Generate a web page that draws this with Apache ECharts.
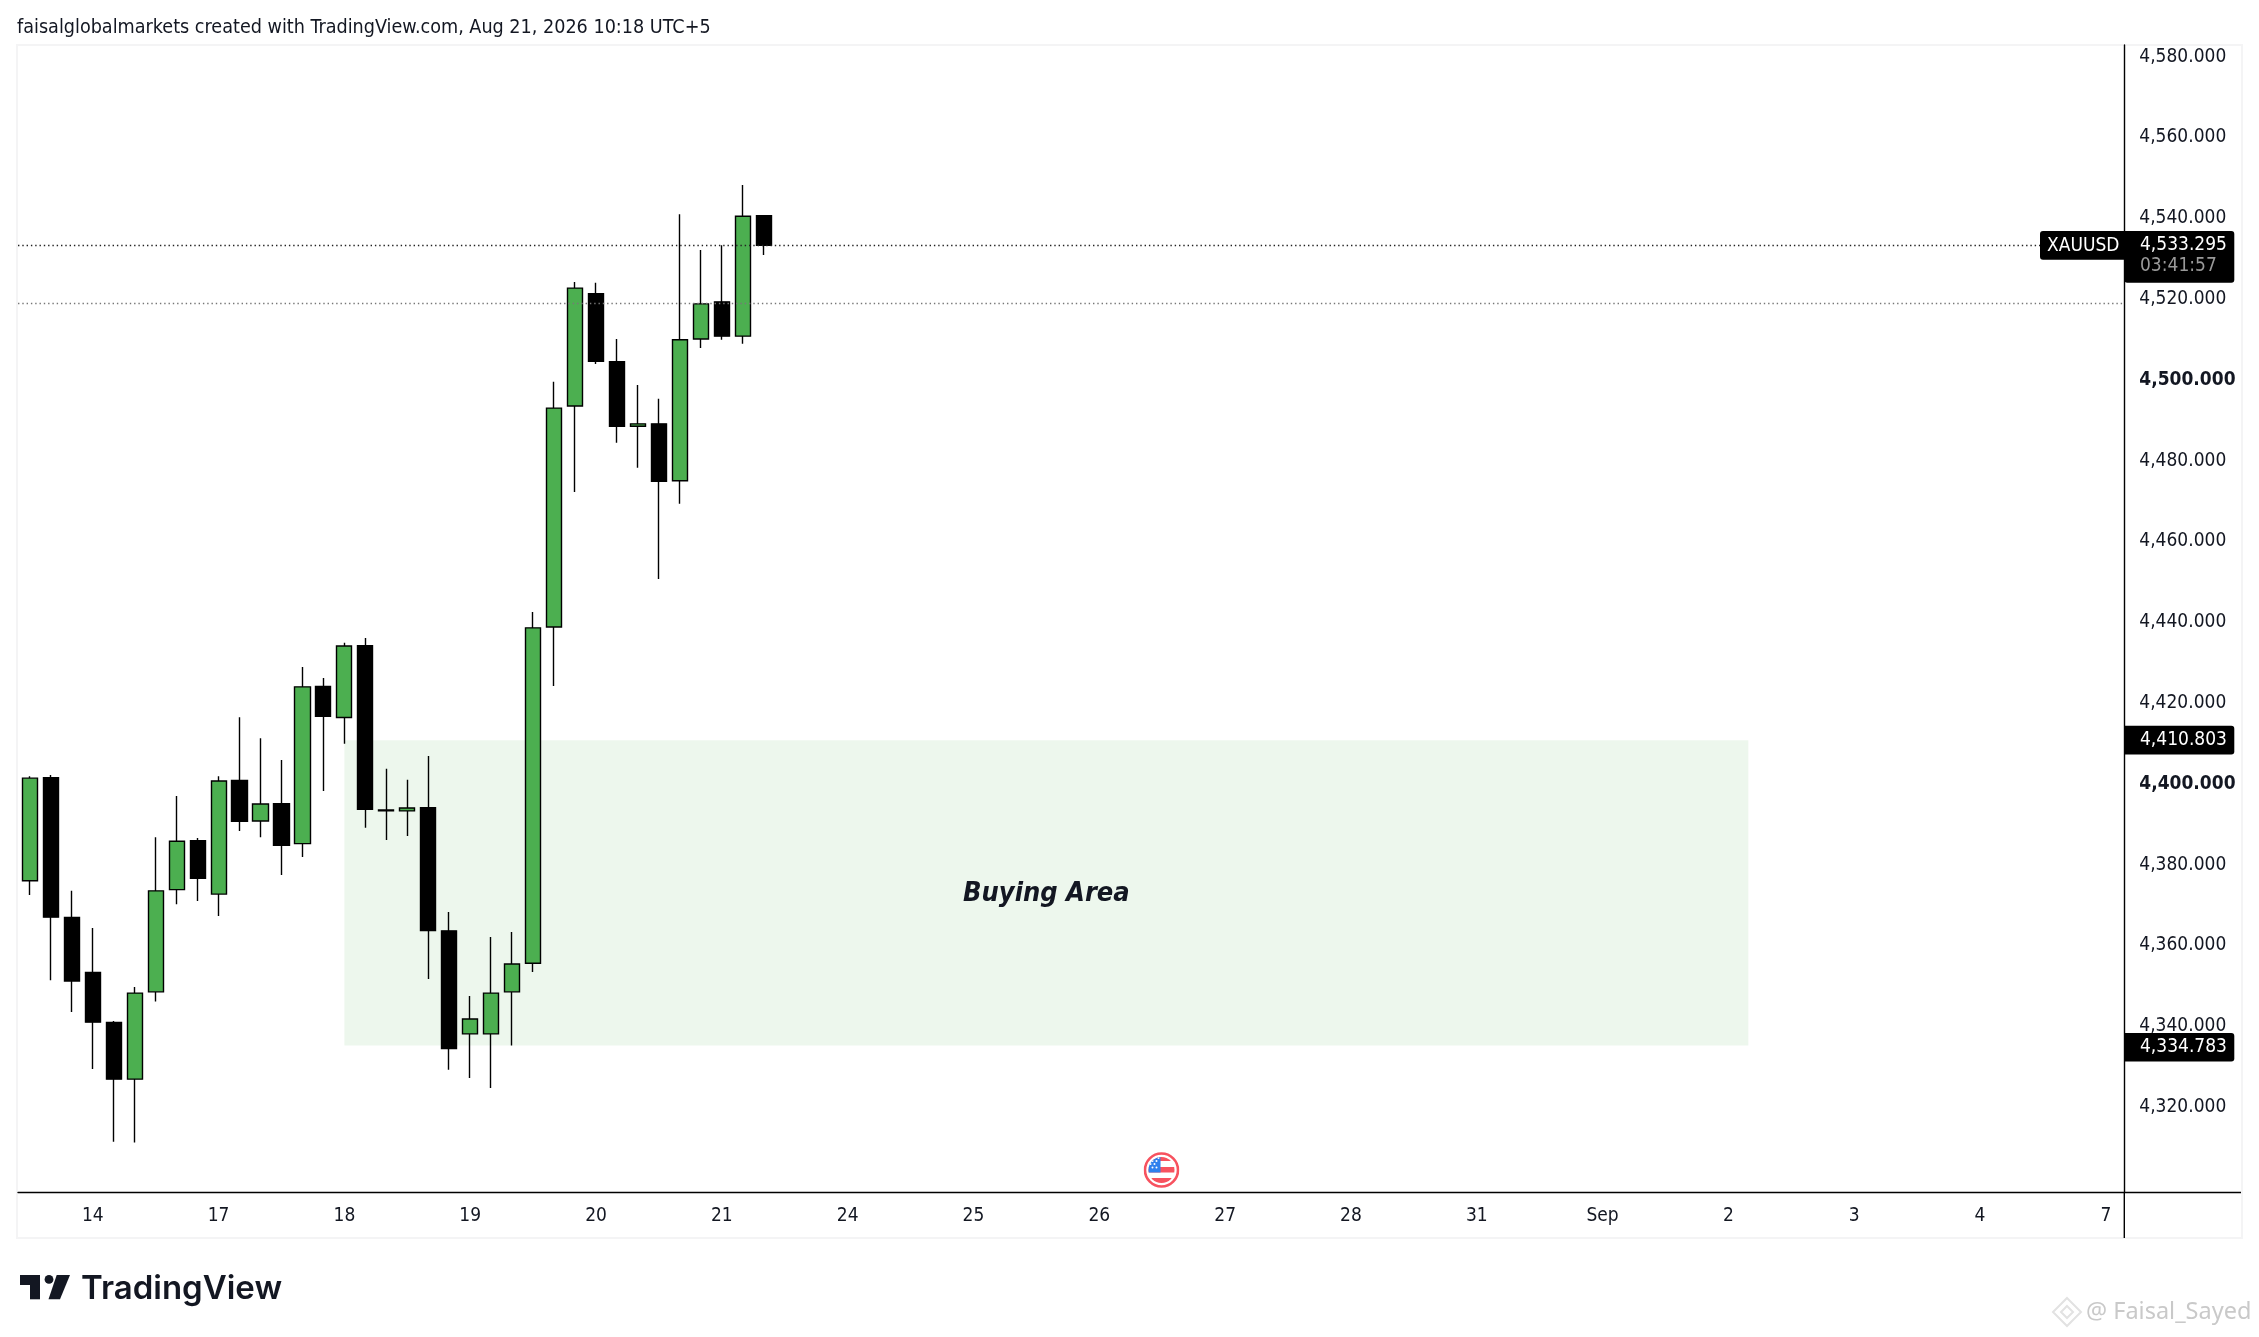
<!DOCTYPE html>
<html><head><meta charset="utf-8">
<style>html,body{margin:0;padding:0;background:#fff}#c{width:2259px;height:1337px}</style>
<script src="https://cdn.jsdelivr.net/npm/echarts@6/dist/echarts.min.js"></script>
</head><body><div id="c"></div>
<script>
const opens  = [4376.0,4401.5,4366.9,4353.3,4340.9,4326.9,4348.5,4373.8,4385.9,4372.7,4400.8,4390.8,4395.1,4385.2,4424.1,4416.4,4434.2,4393.5,4393.3,4394.1,4363.6,4338.1,4338.1,4348.5,4355.6,4438.8,4493.5,4521.3,4504.5,4488.5,4489.1,4475.0,4510.1,4519.3,4510.8,4540.6];
const closes = [4401.4,4367.0,4351.2,4341.0,4326.9,4348.2,4373.5,4385.8,4376.6,4400.7,4390.7,4395.0,4384.8,4424.0,4416.7,4434.1,4393.7,4393.3,4394.0,4363.7,4334.5,4341.8,4348.2,4355.4,4438.6,4493.0,4522.7,4504.6,4488.5,4489.1,4474.9,4509.9,4518.8,4510.8,4540.5,4533.295];
const lows   = [4372.5,4351.4,4343.5,4329.4,4311.4,4311.2,4346.1,4370.2,4371.0,4367.3,4388.3,4386.8,4377.4,4381.9,4398.2,4409.9,4389.1,4386.1,4387.1,4351.7,4329.2,4327.2,4324.7,4335.2,4353.4,4424.2,4472.2,4503.9,4484.4,4478.2,4450.7,4469.3,4507.9,4509.9,4508.9,4530.9];
const highs  = [4401.9,4402.2,4373.5,4364.3,4341.3,4349.7,4386.8,4397.0,4386.6,4401.9,4416.5,4411.3,4405.9,4428.9,4426.2,4434.9,4436.1,4403.7,4401.0,4406.9,4368.3,4347.5,4362.1,4363.3,4442.5,4499.5,4524.2,4524.0,4510.1,4498.7,4495.3,4541.0,4532.1,4533.3,4548.2,4540.8];
const dayTicks  = [3,9,15,21,27,33,39,45,51,57,63,69,75,81,87,93,99];
const dayLabels = ['14','17','18','19','20','21','24','25','26','27','28','31','Sep','2','3','4','7'];
const priceTicks = [4320,4340,4360,4380,4400,4420,4440,4460,4480,4500,4520,4540,4560,4580];
const lastPrice = 4533.295, levelLine = 4518.9, zoneTop = 4410.803, zoneBottomTag = 4334.783, zoneBottomEdge = 4335.2;
const zoneBars = [15, 81.95];
const FONT = '"DejaVu Sans Condensed"';

const fmt = v => v.toLocaleString('en-US',{minimumFractionDigits:3,maximumFractionDigits:3});
const chart = echarts.init(document.getElementById('c'),null,{renderer:'canvas'});
chart.setOption({
  animation:false,
  backgroundColor:'#fff',
  title:{text:'faisalglobalmarkets created with TradingView.com, Aug 21, 2026 10:18 UTC+5',left:12,top:13,
    textStyle:{fontFamily:FONT,fontSize:19.6,fontWeight:'normal',color:'#131722'}},
  grid:{left:18,top:45,width:2106.3,height:1147.5,containLabel:false},
  xAxis:{type:'value',min:-0.565,max:99.879,splitLine:{show:false},
    axisLine:{show:true,onZero:false,lineStyle:{color:'#000',width:1.4}},axisTick:{show:false},
    axisLabel:{customValues:dayTicks,margin:14,fontFamily:FONT,fontSize:19,color:'#131722',
      formatter:v=>dayLabels[dayTicks.indexOf(v)]||''}},
  yAxis:{type:'value',position:'right',min:4298.84,max:4582.87,scale:true,splitLine:{show:false},
    axisLine:{show:true,onZero:false,lineStyle:{color:'#000',width:1.4}},axisTick:{show:false},
    axisLabel:{customValues:priceTicks,margin:15,align:'left',
      formatter:v=>(v%100===0?'{b|'+fmt(v)+'}':'{n|'+fmt(v)+'}'),
      rich:{n:{fontFamily:FONT,fontSize:19,color:'#131722'},b:{fontFamily:FONT,fontSize:19,fontWeight:'bold',color:'#131722'}}}},
  series:[{type:'candlestick',barWidth:15.6,encode:{x:0,y:[1,2,3,4]},
    data:opens.map((o,i)=>[i,o,closes[i],lows[i],highs[i]]),
    itemStyle:{color:'#4CAF50',color0:'#000',borderColor:'#000',borderColor0:'#000',borderColorDoji:'#000',borderWidth:1.4},
    markArea:{silent:true,itemStyle:{color:'rgba(76,175,80,0.1)',borderWidth:0},
      label:{show:true,position:'inside',offset:[0,1],formatter:'Buying Area',fontFamily:FONT,fontSize:27,fontStyle:'italic',fontWeight:'bold',color:'#131722'},
      data:[[{xAxis:zoneBars[0],yAxis:zoneTop},{xAxis:zoneBars[1],yAxis:zoneBottomEdge}]]},
    markLine:{silent:true,symbol:'none',label:{show:false},
      data:[{yAxis:lastPrice,lineStyle:{color:'#222',type:[1.4,2.9],width:1.4}},
            {yAxis:levelLine,lineStyle:{color:'#777',type:[1.4,2.9],width:1.4}}]}}]
});

const yOf = v => chart.convertToPixel({yAxisIndex:0},v);
const AX = 2124.3;
function tag(v){
  const y=yOf(v);
  return [
    {type:'rect',z:50,shape:{x:AX,y:y-14.3,width:110,height:28.6,r:[0,3,3,0]},style:{fill:'#000'}},
    {type:'text',z:51,style:{x:2140,y:y,text:fmt(v),fill:'#fff',font:'19px '+FONT,textVerticalAlign:'middle'}}
  ];
}
const yl=yOf(lastPrice);
const flag='<svg xmlns="http://www.w3.org/2000/svg" width="36" height="36" viewBox="0 0 36 36"><defs><clipPath id="c"><circle cx="18" cy="18" r="13"/></clipPath></defs><circle cx="18" cy="18" r="16.5" fill="#fff" stroke="#F7525F" stroke-width="2.6"/><g clip-path="url(#c)"><rect x="0" y="0" width="36" height="36" fill="#fff"/><rect y="4" width="36" height="5" fill="#F7525F"/><rect y="15" width="36" height="5.5" fill="#F7525F"/><rect y="26" width="36" height="6" fill="#F7525F"/><rect x="0" y="0" width="17" height="20.5" fill="#2F80ED"/><g fill="#fff"><circle cx="9" cy="9" r="1"/><circle cx="13" cy="9" r="1"/><circle cx="11" cy="12" r="1"/><circle cx="7" cy="12" r="1"/><circle cx="9" cy="15.5" r="1"/><circle cx="13" cy="15.5" r="1"/><circle cx="15" cy="6" r="1"/><circle cx="11" cy="6" r="1"/></g></g></svg>';
chart.setOption({graphic:{elements:[
  {type:'rect',z:-1,silent:true,shape:{x:17,y:45,width:2225,height:1193},style:{fill:'none',stroke:'#f4f4f5',lineWidth:2}},
  {type:'line',z:40,shape:{x1:AX,y1:1192.5,x2:2241,y2:1192.5},style:{stroke:'#000',lineWidth:1.4}},
  {type:'line',z:40,shape:{x1:AX,y1:1192.5,x2:AX,y2:1238},style:{stroke:'#000',lineWidth:1.4}},
  {type:'rect',z:50,shape:{x:2040,y:yl-14.3,width:86,height:28.8,r:[3,0,0,3]},style:{fill:'#000'}},
  {type:'rect',z:50,shape:{x:AX,y:yl-14.3,width:110,height:51.7,r:[0,3,3,3]},style:{fill:'#000'}},
  {type:'text',z:51,style:{x:2047,y:yl+1,text:'XAUUSD',fill:'#fff',font:'19px '+FONT,textVerticalAlign:'middle'}},
  {type:'text',z:51,style:{x:2140,y:yl,text:fmt(lastPrice),fill:'#fff',font:'19px '+FONT,textVerticalAlign:'middle'}},
  {type:'text',z:51,style:{x:2140,y:yl+21,text:'03:41:57',fill:'#999',font:'19px '+FONT,textVerticalAlign:'middle'}},
  ...tag(zoneTop),...tag(zoneBottomTag),
  {type:'image',z:30,style:{image:'data:image/svg+xml;utf8,'+encodeURIComponent(flag),x:1143.5,y:1152,width:36,height:36}},
  // TradingView logo
  {type:'rect',z:30,shape:{x:20,y:1275,width:20,height:10},style:{fill:'#131722'}},
  {type:'rect',z:30,shape:{x:30,y:1275,width:10,height:24.3},style:{fill:'#131722'}},
  {type:'circle',z:30,shape:{cx:49,cy:1279.4,r:4.4},style:{fill:'#131722'}},
  {type:'polygon',z:30,shape:{points:[[56.7,1275],[70,1275],[60,1299.3],[48.5,1299.3]]},style:{fill:'#131722'}},
  {type:'text',z:30,style:{x:81,y:1289,text:'TradingView',fill:'#131722',font:'600 33px Inter',textVerticalAlign:'middle'}},
  // watermark
  {type:'polygon',z:30,shape:{points:[[2067,1298],[2081,1312],[2067,1326],[2053,1312]]},style:{fill:'none',stroke:'#e2e2e2',lineWidth:2}},
  {type:'polygon',z:30,shape:{points:[[2067,1306],[2073,1312],[2067,1318],[2061,1312]]},style:{fill:'none',stroke:'#e2e2e2',lineWidth:2}},
  {type:'text',z:30,style:{x:2086,y:1312,text:'@ Faisal_Sayed',fill:'#c9c9c9',font:'23.5px "Noto Sans"',textVerticalAlign:'middle'}}
]}});
</script></body></html>
